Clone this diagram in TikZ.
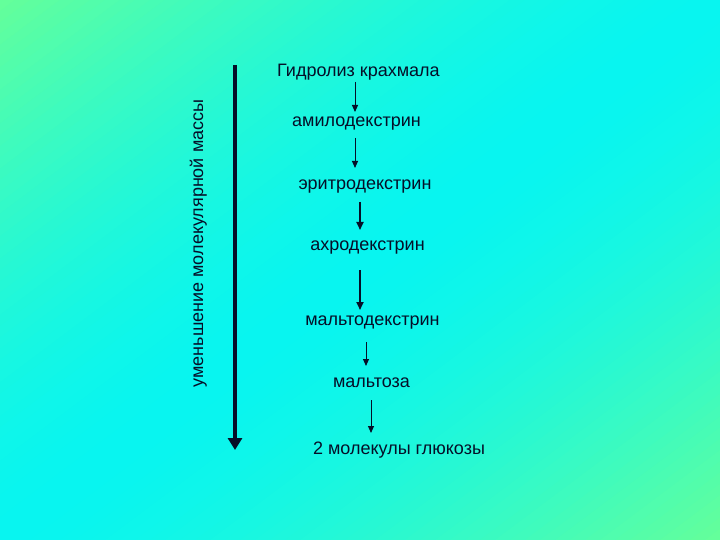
\documentclass[tikz,border=0pt]{standalone}
\usepackage{fontspec}
\setmainfont{Liberation Sans}
\usetikzlibrary{arrows.meta}
\definecolor{bggreen}{RGB}{102,255,153}
\definecolor{bgcyan}{RGB}{8,245,240}
\definecolor{ink}{RGB}{5,15,40}
\tikzset{
 lbl/.style={anchor=base, font=\fontsize{18}{21}\selectfont, text=ink, inner sep=0pt},
 thinarrow/.style={draw=ink, line width=1pt, -{Triangle[length=7pt,width=6pt]}},
 thickarrow/.style={draw=ink, line width=1.8pt, -{Triangle[length=8pt,width=7pt]}},
 bigarrow/.style={draw=ink, line width=4.5pt, -{Triangle[length=12pt,width=14pt]}}
}
\begin{document}
\begin{tikzpicture}[x=1pt,y=-1pt]
\useasboundingbox (0,0) rectangle (720,540);
\begin{scope}
\clip (0,0) rectangle (720,540);
\fill[bggreen] (0,0) rectangle (720,540);
\foreach \i in {0,...,95} {
  \pgfmathsetmacro{\ta}{\i*9}
  \pgfmathsetmacro{\tb}{\i*9+10}
  \pgfmathsetmacro{\d}{abs(2*(\i+0.5)/96-1)}
  \pgfmathsetmacro{\p}{100*(1-\d^1.6)}
  \fill[bgcyan!\p!bggreen]
    ({\ta*0.6+640},{\ta*0.8-480}) -- ({\ta*0.6-640},{\ta*0.8+480}) --
    ({\tb*0.6-640},{\tb*0.8+480}) -- ({\tb*0.6+640},{\tb*0.8-480}) -- cycle;
}
\end{scope}

\node[lbl] (h)  at (358.5,77) {Гидролиз крахмала};
\node[lbl] (a1) at (356.5,127) {амилодекстрин};
\node[lbl] (a2) at (365,190) {эритродекстрин};
\node[lbl] (a3) at (367.5,251) {ахродекстрин};
\node[lbl] (a4) at (372.5,325) {мальтодекстрин};
\node[lbl] (a5) at (371.5,387) {мальтоза};
\node[lbl] (a6) at (399,454) {2 молекулы глюкозы};
\node[lbl, rotate=90] (v) at (203,243.5) {уменьшение молекулярной массы};

\coordinate (s1) at (355,82);  \coordinate (e1) at (355,112);
\coordinate (s2) at (355,138); \coordinate (e2) at (355,168);
\coordinate (s3) at (360,202); \coordinate (e3) at (360,230);
\coordinate (s4) at (360,270); \coordinate (e4) at (360,310);
\coordinate (s5) at (366,342); \coordinate (e5) at (366,366);
\coordinate (s6) at (371,400); \coordinate (e6) at (371,433);
\draw[thinarrow] (s1) -- (e1);
\draw[thinarrow] (s2) -- (e2);
\draw[thickarrow] (s3) -- (e3);
\draw[thickarrow] (s4) -- (e4);
\draw[thinarrow] (s5) -- (e5);
\draw[thinarrow] (s6) -- (e6);

\coordinate (b0) at (235,65);
\coordinate (b1) at (235,450);
\draw[bigarrow] (b0) -- (b1);
\end{tikzpicture}
\end{document}
